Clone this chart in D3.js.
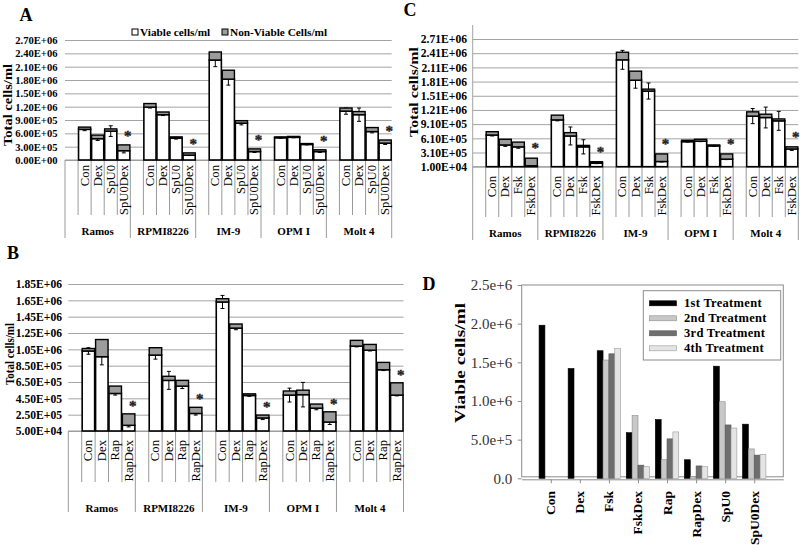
<!DOCTYPE html>
<html><head><meta charset="utf-8">
<script src="https://cdn.jsdelivr.net/npm/d3@7"></script>
<style>body{margin:0;background:#fff}svg{display:block}</style>
</head><body>
<script>
// ---------- DATA ----------
const cellLines = ["Ramos","RPMI8226","IM-9","OPM I","Molt 4"];

const treatA = ["Con","Dex","SpU0","SpU0Dex"];
const viableA = [6.9e5,4.8e5,6.5e5,2.1e5, 1.19e6,1.02e6,4.9e5,1.1e5, 2.25e6,1.82e6,8.3e5,1.9e5, 5.0e5,5.1e5,3.5e5,1.9e5, 1.1e6,1.02e6,6.4e5,3.8e5];
const totalA  = [7.4e5,5.6e5,7.0e5,3.4e5, 1.27e6,1.08e6,5.2e5,1.6e5, 2.43e6,2.02e6,8.85e5,2.5e5, 5.2e5,5.3e5,3.7e5,2.3e5, 1.17e6,1.09e6,7.3e5,4.5e5];
const errA    = [3e4,4e4,1.2e5,5e4, 2e4,2e4,2e4,1e4, 1.5e5,1.35e5,4e4,2e4, 1e4,1e4,1e4,2e4, 7e4,1.5e5,3e4,3e4];
const ticksA  = [0,3e5,6e5,9e5,1.2e6,1.5e6,1.8e6,2.1e6,2.4e6,2.7e6];

const treatB = ["Con","Dex","Rap","RapDex"];
const viableB = [1.03e6,9.6e5,5.1e5,1.2e5, 9.8e5,6.7e5,6.0e5,2.65e5, 1.63e6,1.31e6,4.85e5,2.1e5, 4.9e5,4.95e5,3.3e5,1.6e5, 1.09e6,1.04e6,8.0e5,4.9e5];
const totalB  = [1.06e6,1.17e6,6.0e5,2.6e5, 1.07e6,7.2e5,6.7e5,3.4e5, 1.67e6,1.36e6,5.05e5,2.45e5, 5.4e5,5.5e5,3.8e5,2.85e5, 1.16e6,1.11e6,8.9e5,6.4e5];
const errB    = [4e4,1.0e5,2e4,2e4, 5e4,1.1e5,3e4,2e4, 8e4,2e4,1e4,2e4, 8.5e4,1.5e5,2e4,3e4, 1e4,1e4,1e4,1e4];
const ticksB  = [5e4,2.5e5,4.5e5,6.5e5,8.5e5,1.05e6,1.25e6,1.45e6,1.65e6,1.85e6];

const treatC = ["Con","Dex","Fsk","FskDex"];
const viableC = [6.8e5,4.7e5,4.3e5,3e4, 1.0e6,6.6e5,4.3e5,8.5e4, 2.27e6,1.84e6,1.61e6,1.2e5, 5.4e5,5.5e5,4.5e5,1.7e5, 1.08e6,1.05e6,9.8e5,3.85e5];
const totalC  = [7.5e5,5.9e5,5.3e5,1.9e5, 1.1e6,7.3e5,4.6e5,1.15e5, 2.43e6,2.03e6,1.65e6,2.8e5, 5.7e5,5.9e5,4.7e5,2.8e5, 1.17e6,1.12e6,1.02e6,4.3e5];
const errC    = [2e4,3e4,3e4,1e4, 2e4,1.9e5,1.5e5,1e4, 2.0e5,1.7e5,1.7e5,1e4, 1e4,1e4,1e4,1e4, 1.6e5,2.2e5,2.0e5,3e4];
const ticksC  = [1e4,3.1e5,6.1e5,9.1e5,1.21e6,1.51e6,1.81e6,2.11e6,2.41e6,2.71e6];

const legendA = ["Viable cells/ml","Non-Viable Cells/ml"];

const treatD  = ["Con","Dex","Fsk","FskDex","Rap","RapDex","SpU0","SpU0Dex"];
const seriesD = ["1st Treatment","2nd Treatment","3rd Treatment","4th Treatment"];
const d1st = [1.98e6,1.42e6,1.65e6,5.9e5,7.6e5,2.4e5,1.45e6,7.0e5];
const d2nd = [0,0,1.53e6,8.1e5,2.4e5,2e4,9.9e5,3.8e5];
const d3rd = [0,0,1.61e6,1.7e5,5.1e5,1.6e5,6.9e5,3.0e5];
const d4th = [0,0,1.68e6,1.5e5,6.0e5,1.5e5,6.5e5,3.1e5];
const ticksD = [0,5e5,1e6,1.5e6,2e6,2.5e6];

// ---------- DRAWING ----------
const FONT = "Liberation Serif";
const svg = d3.select("body").append("svg").attr("width",800).attr("height",553)
  .attr("font-family",FONT);

function fmtE(v){
  const [m,e] = v.toExponential(2).split("e");
  return m + "E" + e[0] + e.slice(1).padStart(2,"0");
}

function stacked(p){
  const g = svg.append("g");
  const [x0,x1] = p.xRange;
  const y = d3.scaleLinear().domain([p.ticks[0], p.ticks[p.ticks.length-1]]).range(p.yRange);
  const gx = d3.scaleBand().domain(cellLines).range(p.xRange).padding(0);
  const gw = gx.bandwidth();
  const ix = d3.scaleBand().domain(p.treat).range([gw*0.2, gw]).paddingInner(0.07).paddingOuter(0.035);

  const ax = g.append("g").attr("transform",`translate(${x0},0)`)
    .call(d3.axisLeft(y).tickValues(p.ticks).tickSize(-(x1-x0)).tickPadding(x0-p.labelRight).tickFormat(fmtE));
  ax.attr("font-family",FONT);
  ax.select(".domain").remove();
  ax.selectAll(".tick line").attr("stroke","#a3a3a3");
  ax.selectAll(".tick text").attr("font-family",FONT).attr("font-weight","bold")
    .attr("font-size",p.tickFont).attr("fill","#000");

  if (p.yAxisLine) g.append("line").attr("x1",x0).attr("x2",x0).attr("y1",p.yAxisLine).attr("y2",p.yRange[0]).attr("stroke","#a3a3a3");

  g.append("text").attr("transform",`translate(${p.title[0]},${p.title[1]}) rotate(-90)`)
    .attr("text-anchor","middle").attr("dominant-baseline","central")
    .attr("font-weight","bold").attr("font-size",11.5)
    .attr("textLength",p.title[2]).attr("lengthAdjust","spacingAndGlyphs").text("Total cells/ml");

  const base = p.yRange[0];
  g.append("line").attr("x1",x0).attr("x2",x1).attr("y1",base).attr("y2",base).attr("stroke","#9a9a9a");
  cellLines.forEach(c=>{
    for(let j=1;j<=4;j++){
      const xx = gx(c)+gw*j/5;
      g.append("line").attr("x1",xx).attr("x2",xx).attr("y1",base).attr("y2",p.catLineBottom).attr("stroke","#9a9a9a");
    }
  });
  [...cellLines.map(c=>gx(c)), x1].forEach(xx=>{
    g.append("line").attr("x1",xx).attr("x2",xx).attr("y1",base).attr("y2",p.groupLineBottom).attr("stroke","#9a9a9a");
  });

  const rows = cellLines.flatMap((c,i)=>p.treat.map((t,j)=>({c,t,j,
    v:p.viable[i*4+j], tot:p.total[i*4+j], e:p.err[i*4+j]})));
  const bx = d => gx(d.c)+ix(d.t);
  const bw = ix.bandwidth();

  g.selectAll(".cl").data(rows).join("text")
    .attr("transform",d=>`translate(${bx(d)+bw/2},${p.catTop}) rotate(-90)`)
    .attr("text-anchor","end").attr("dominant-baseline","central")
    .attr("font-size",12.7).text(d=>d.t);
  g.selectAll(".gl").data(cellLines).join("text")
    .attr("x",c=>gx(c)+gw/2).attr("y",p.groupLabelY)
    .attr("text-anchor","middle").attr("dominant-baseline","central")
    .attr("font-weight","bold").attr("font-size",11).text(c=>c);

  g.selectAll(".vb").data(rows).join("rect")
    .attr("x",bx).attr("width",bw).attr("y",d=>y(d.v)).attr("height",d=>base-y(d.v))
    .attr("fill","#fff").attr("stroke","#000").attr("stroke-width",1.6);
  const eb = g.selectAll(".eb").data(rows).join("g");
  eb.append("line").attr("x1",d=>bx(d)+bw/2).attr("x2",d=>bx(d)+bw/2)
    .attr("y1",d=>y(d.v-d.e)).attr("y2",d=>y(d.v+d.e)).attr("stroke","#000").attr("stroke-width",1);
  [-1,1].forEach(s=>eb.append("line").attr("x1",d=>bx(d)+bw/2-2).attr("x2",d=>bx(d)+bw/2+2)
    .attr("y1",d=>y(d.v+s*d.e)).attr("y2",d=>y(d.v+s*d.e)).attr("stroke","#000").attr("stroke-width",1));
  g.selectAll(".nb").data(rows).join("rect")
    .attr("x",bx).attr("width",bw).attr("y",d=>y(d.tot)).attr("height",d=>y(d.v)-y(d.tot))
    .attr("fill","#9c9c9c").attr("stroke","#000").attr("stroke-width",1.4);

  g.selectAll(".st").data(rows.filter(d=>d.j===3)).join("text")
    .attr("x",d=>bx(d)+bw/2+4).attr("y",d=>y(d.tot)-p.starOff+7)
    .attr("text-anchor","middle").attr("font-size",15).attr("font-weight","bold")
    .attr("fill","#222").attr("stroke","#222").attr("stroke-width",0.4).text("*");

  svg.append("text").attr("x",p.letter[0]).attr("y",p.letter[1]).attr("text-anchor","middle")
    .attr("dominant-baseline","central").attr("font-weight","bold").attr("font-size",18).text(p.letter[2]);
}

// Panel A
stacked({xRange:[65,391.7], yRange:[160,40], ticks:ticksA, treat:treatA,
  viable:viableA,total:totalA,err:errA, labelRight:57.5, tickFont:10.6,
  title:[8,105,82], catTop:165, catLineBottom:215, groupLineBottom:238, groupLabelY:231,
  starOff:11, letter:[26,15,"A"]});
{
  const lg = svg.append("g");
  lg.append("rect").attr("x",122).attr("y",25).attr("width",206).attr("height",15).attr("fill","#fff");
  const items = [{x:132,fill:"#fff",t:legendA[0]},{x:222,fill:"#9c9c9c",t:legendA[1]}];
  items.forEach(it=>{
    lg.append("rect").attr("x",it.x).attr("y",29).attr("width",6).attr("height",6).attr("fill",it.fill).attr("stroke","#000").attr("stroke-width",1);
    lg.append("text").attr("x",it.x+8).attr("y",32).attr("dominant-baseline","central")
      .attr("font-weight","bold").attr("font-size",11.3).text(it.t);
  });
}

// Panel B
stacked({xRange:[68.3,403.5], yRange:[431,284], ticks:ticksB, treat:treatB,
  viable:viableB,total:totalB,err:errB, labelRight:62, tickFont:11.6,
  title:[10,354,62], catTop:440, catLineBottom:482, groupLineBottom:512, groupLabelY:508,
  starOff:10, letter:[13,253,"B"]});

// Panel C
stacked({xRange:[472.7,798.3], yRange:[166.7,39], ticks:ticksC, treat:treatC,
  viable:viableC,total:totalC,err:errC, labelRight:467, tickFont:11.6, yAxisLine:25,
  title:[414,92,90], catTop:176, catLineBottom:217, groupLineBottom:240, groupLabelY:233,
  starOff:12, letter:[410,10,"C"]});

// Panel D
{
  const g = svg.append("g");
  const L=521.7, R=783.3, T=285, B=478.3;
  const x = d3.scalePoint().domain(treatD).range([L,R]).padding(1);
  const y = d3.scaleLinear().domain([0,2.5e6]).range([B,T]);
  const seriesVals = [d1st,d2nd,d3rd,d4th];
  const fills = ["#000000","#c8c8c8","#6e6e6e","#e4e4e4"];
  const strokes = ["#000000","#8a8a8a","#555555","#9a9a9a"];
  const inner = d3.scaleBand().domain(seriesD).range([-11.7,11.7]).padding(0);

  g.append("rect").attr("x",L).attr("y",T).attr("width",R-L).attr("height",B-1.5-T)
    .attr("fill","none").attr("stroke","#8c8c8c").attr("stroke-width",1);

  const ay = g.append("g").attr("transform",`translate(${L},0)`)
    .call(d3.axisLeft(y).tickValues(ticksD).tickSize(4).tickPadding(5.5)
      .tickFormat(v=> v===0 ? "0.0" : v.toExponential(1)));
  ay.attr("font-family",FONT);
  ay.select(".domain").remove();
  ay.selectAll(".tick line").attr("stroke","#8c8c8c");
  ay.selectAll(".tick text").attr("font-family",FONT).attr("font-size",15).attr("fill","#333");

  const axx = g.append("g").attr("transform",`translate(0,${B+1})`)
    .call(d3.axisBottom(x).tickSize(4).tickSizeOuter(0).tickFormat(""));
  axx.select(".domain").attr("stroke","#8c8c8c");
  axx.selectAll(".tick line").attr("stroke","#8c8c8c");

  g.selectAll(".xl").data(treatD).join("text")
    .attr("transform",d=>`translate(${x(d)},${491}) rotate(-90)`)
    .attr("text-anchor","end").attr("dominant-baseline","central")
    .attr("font-weight","bold").attr("font-size",13.5).text(d=>d);

  seriesD.forEach((s,k)=>{
    g.selectAll(".s"+k).data(treatD.map((t,i)=>({t,v:seriesVals[k][i]})).filter(d=>d.v>0)).join("rect")
      .attr("x",d=>x(d.t)+inner(s)).attr("width",inner.bandwidth())
      .attr("y",d=>y(d.v)).attr("height",d=>B-y(d.v))
      .attr("fill",fills[k]).attr("stroke",strokes[k]).attr("stroke-width",0.6);
  });

  g.append("rect").attr("x",643.3).attr("y",290.7).attr("width",137.4).attr("height",69.3)
    .attr("fill","#fff").attr("stroke","#8c8c8c");
  seriesD.forEach((s,k)=>{
    const yy = 303.3 + k*15;
    g.append("rect").attr("x",649.5).attr("y",yy-2.5).attr("width",27).attr("height",5)
      .attr("fill",fills[k]).attr("stroke",strokes[k]).attr("stroke-width",0.6);
    g.append("text").attr("x",684).attr("y",yy).attr("dominant-baseline","central")
      .attr("font-weight","bold").attr("font-size",12.5).attr("letter-spacing",0.3).text(s);
  });

  g.append("text").attr("transform",`translate(460,363) rotate(-90)`)
    .attr("text-anchor","middle").attr("dominant-baseline","central")
    .attr("font-weight","bold").attr("font-size",14.5)
    .attr("textLength",120).attr("lengthAdjust","spacingAndGlyphs").text("Viable cells/ml");

  svg.append("text").attr("x",429).attr("y",284).attr("text-anchor","middle")
    .attr("dominant-baseline","central").attr("font-weight","bold").attr("font-size",18).text("D");
}
</script>
</body></html>
